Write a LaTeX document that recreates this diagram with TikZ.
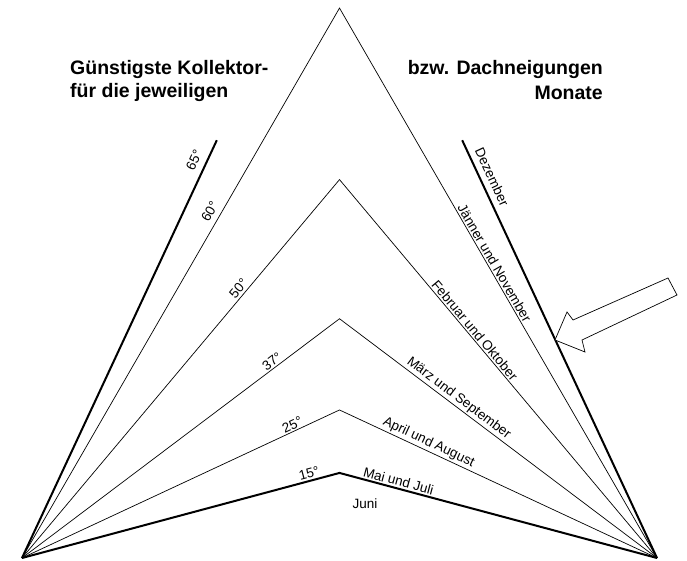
\documentclass[tikz,border=0pt]{standalone}
\usepackage{fontspec}
\setmainfont{Liberation Sans}
\usetikzlibrary{positioning}
\begin{document}
\begin{tikzpicture}[x=1pt,y=1pt,
  thinline/.style={line width=0.7pt},
  thickline/.style={line width=2pt},
  deg/.style={font=\fontsize{13.5}{15}\selectfont,sloped,above,inner sep=1.5pt},
  month/.style={font=\fontsize{13.5}{15}\selectfont,sloped,above,inner sep=1.5pt},
  heading/.style={font=\bfseries\fontsize{19.5}{23}\selectfont,inner sep=0pt}]
  \useasboundingbox (0,0) rectangle (687,560);
  \pgfmathsetmacro\w{317.5}
  % corners of the base:
  \coordinate (L) at (22,2);
  \coordinate (R) at (657,2);
  % apexes of the roofs:
  \foreach \a in {15,25,37,50,60}{
    \pgfmathsetmacro\h{2+\w*tan(\a)}
    \coordinate (A\a) at (339.5,\h);
  }
  % ends of the 65 degree pieces:
  \path (L) ++(65:461) coordinate (T65L);
  \path (R) ++(115:461) coordinate (T65R);
  % heading:
  \node (h1) [heading,anchor=base west] at (70,485) {Günstigste Kollektor-};
  \node (h2) [heading,anchor=base west] at (70,462) {für die jeweiligen};
  \node (h3) [heading,anchor=base east] at (603,485) {bzw. Dachneigungen};
  \node (h4) [heading,anchor=base east] at (603,460) {Monate};
  % thin roofs:
  \foreach \a/\dpos/\dsep/\mpos/\mon in {60/0.62/4pt/0.47/Jänner und November,
      50/0.70/1pt/0.41/Februar und Oktober, 37/0.80/0pt/0.36/März und September,
      25/0.86/0pt/0.27/April und August}
    \draw[thinline] (L) -- node (d\a) [deg,above=\dsep,pos=\dpos] {\a°} (A\a)
      -- node (m\a) [month,pos=\mpos] {\mon} (R);
  % lowest roof:
  \draw[thickline] (L) -- node (d15) [deg,pos=0.91] {15°} (A15)
    -- node (m15) [month,pos=0.18] {Mai und Juli} (R);
  \node (juni) [font=\fontsize{13.5}{15}\selectfont,below right=26pt and 13pt of A15,inner sep=0pt] {Juni};
  % steepest pieces:
  \draw[thickline] (L) -- node (d65) [deg,above=5pt,pos=0.94] {65°} (T65L);
  \draw[thickline] (T65R) -- node (m65) [month,above=4pt,pos=0.1] {Dezember} (R);
  % arrow:
  \draw[thinline,fill=white] (555,220) -- (567,248) -- (573,240) -- (668,282)
    -- (677,265) -- (582,220) -- (585,208) -- cycle;
\end{tikzpicture}
\end{document}
